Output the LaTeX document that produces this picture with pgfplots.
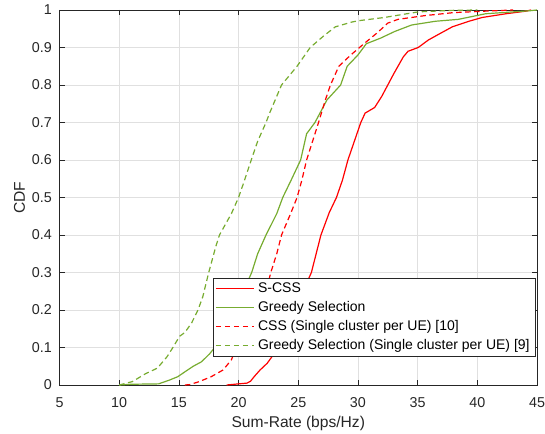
\documentclass[border=0pt]{standalone}
\usepackage{fontspec}
\setmainfont{Liberation Sans}
\usepackage{pgfplots}
\pgfplotsset{compat=1.18}
\definecolor{mgreen}{rgb}{0.466,0.674,0.188}
\definecolor{axgray}{rgb}{0.15,0.15,0.15}
\definecolor{grd}{rgb}{0.88,0.88,0.88}
\newcommand{\tfs}{\fontsize{14.3}{17}\selectfont}
\newcommand{\lfs}{\fontsize{15.6}{18}\selectfont}
\newcommand{\gfs}{\fontsize{14}{16.5}\selectfont}
\begin{document}
\begin{tikzpicture}
\begin{axis}[
  scale only axis,
  width=477.5pt, height=375pt,
  xmin=5, xmax=45, ymin=0, ymax=1,
  xtick={5,10,...,45},
  ytick={0,0.1,...,1},
  grid=major,
  major grid style={draw=grd, line width=0.6pt},
  axis line style={draw=axgray, line width=0.6pt},
  major tick style={draw=axgray, line width=0.6pt},
  major tick length=5pt,
  tick align=inside,
  /pgf/number format/assume math mode=true,
  /pgf/number format/fixed,
  tick label style={font=\tfs, text=axgray},
  xticklabel style={anchor=base, yshift=-22.3pt},
  yticklabel style={anchor=east, inner xsep=0pt, xshift=-7.5pt},
  label style={font=\lfs, text=axgray},
  xlabel={Sum-Rate (bps/Hz)},
  ylabel={CDF},
  xlabel style={at={(axis description cs:0.5,-0.112)}, anchor=base},
  ylabel style={at={(axis description cs:-0.0723,0.5)}, anchor=base},
  legend cell align=left,
  legend style={at={(axis description cs:0.321,0.2861)}, anchor=north west,
    font=\gfs, draw=axgray, line width=0.6pt, fill=white,
    inner xsep=2pt, inner ysep=1pt,
    nodes={font=\gfs, text height=10pt, text depth=3pt, inner ysep=3pt, inner xsep=3.5pt}},
  legend image code/.code={\draw[#1, line width=1.5pt] (0pt,0pt) -- (38pt,0pt);},
]
\coordinate (bl) at (rel axis cs:0,0);
\coordinate (tr) at (rel axis cs:1,1);
% S-CSS
\addplot[color=red, solid, line width=1.2pt] coordinates {
(19.0,0) (20.0,0.003) (20.7,0.005) (21.0,0.01) (21.3,0.022) (21.8,0.04)
(22.4,0.058) (22.9,0.08) (23.2,0.11) (23.8,0.13) (24.6,0.17) (25.0,0.21)
(25.4,0.25) (26.1,0.30) (26.5,0.35) (26.9,0.40) (27.6,0.46) (28.2,0.50)
(28.7,0.546) (29.16,0.6) (29.7,0.65) (30.24,0.7) (30.6,0.725) (31.4,0.74)
(32.0,0.77) (32.5,0.8) (33.0,0.83) (33.8,0.875) (34.2,0.89) (35.05,0.9)
(35.9,0.92) (36.75,0.935) (37.9,0.955) (39.3,0.97) (40.4,0.98) (42.4,0.99)
(44.1,0.997) (44.5,1)};
\addlegendentry{{\gfs S-CSS}}
% Greedy Selection
\addplot[color=mgreen, solid, line width=1.2pt] coordinates {
(10.0,0) (11.0,0.002) (13.3,0.003) (14.2,0.013) (14.9,0.022) (15.5,0.035)
(16.2,0.05) (16.9,0.062) (17.6,0.084) (18.0,0.1) (18.7,0.13) (19.4,0.17)
(19.9,0.21) (20.4,0.25) (21.1,0.3) (21.6,0.35) (22.3,0.4) (23.2,0.457)
(23.7,0.5) (24.4,0.546) (25.2,0.6) (25.7,0.67) (26.4,0.7) (27.4,0.76)
(28.55,0.8) (29.1,0.85) (30.0,0.88) (30.7,0.91) (31.9,0.925) (33.1,0.943)
(34.5,0.96) (36.5,0.97) (38.4,0.975) (40.7,0.99) (44.4,0.998) (45,1)};
\addlegendentry{{\gfs Greedy Selection}}
% CSS single cluster
\addplot[color=red, line width=1.2pt, dash pattern=on 5.5pt off 3.5pt] coordinates {
(15.5,0) (15.9,0.001) (16.7,0.009) (17.7,0.022) (18.7,0.04) (19.4,0.067)
(19.8,0.1) (20.7,0.13) (21.4,0.17) (22.0,0.22) (22.3,0.25) (22.7,0.30)
(23.2,0.35) (23.6,0.40) (24.4,0.46) (24.9,0.5) (25.3,0.546) (25.7,0.6)
(26.2,0.65) (26.7,0.7) (27.27,0.76) (27.7,0.8) (28.4,0.85) (29.4,0.88)
(30.5,0.91) (31.65,0.94) (32.5,0.965) (33.35,0.975) (35.6,0.985) (38,0.993)
(40.7,0.997) (43,1)};
\addlegendentry{{\gfs CSS (Single cluster per UE) [10]}}
% Greedy single cluster
\addplot[color=mgreen, line width=1.2pt, dash pattern=on 5.5pt off 3.5pt] coordinates {
(10.0,0) (11.1,0.009) (12.2,0.03) (13.2,0.045) (14.0,0.075) (14.5,0.1)
(15.06,0.13) (15.5,0.14) (16.06,0.165) (16.6,0.2) (17.0,0.235) (17.5,0.3)
(18.1,0.37) (18.4,0.4) (19.4,0.457) (20.0,0.5) (20.5,0.546) (21.06,0.6)
(21.6,0.65) (22.3,0.7) (22.6,0.725) (23.6,0.8) (24.9,0.85) (26.0,0.9)
(27.1,0.93) (28.1,0.955) (29.5,0.968) (30.2,0.972) (32.2,0.98) (35.05,0.995)
(37.9,0.999) (40,1)};
\addlegendentry{{\gfs Greedy Selection (Single cluster per UE) [9]}}
\end{axis}
\pgfresetboundingbox
\path ([shift={(-59.5pt,-48pt)}]bl) rectangle ([shift={(8pt,10pt)}]tr);
\end{tikzpicture}
\end{document}
